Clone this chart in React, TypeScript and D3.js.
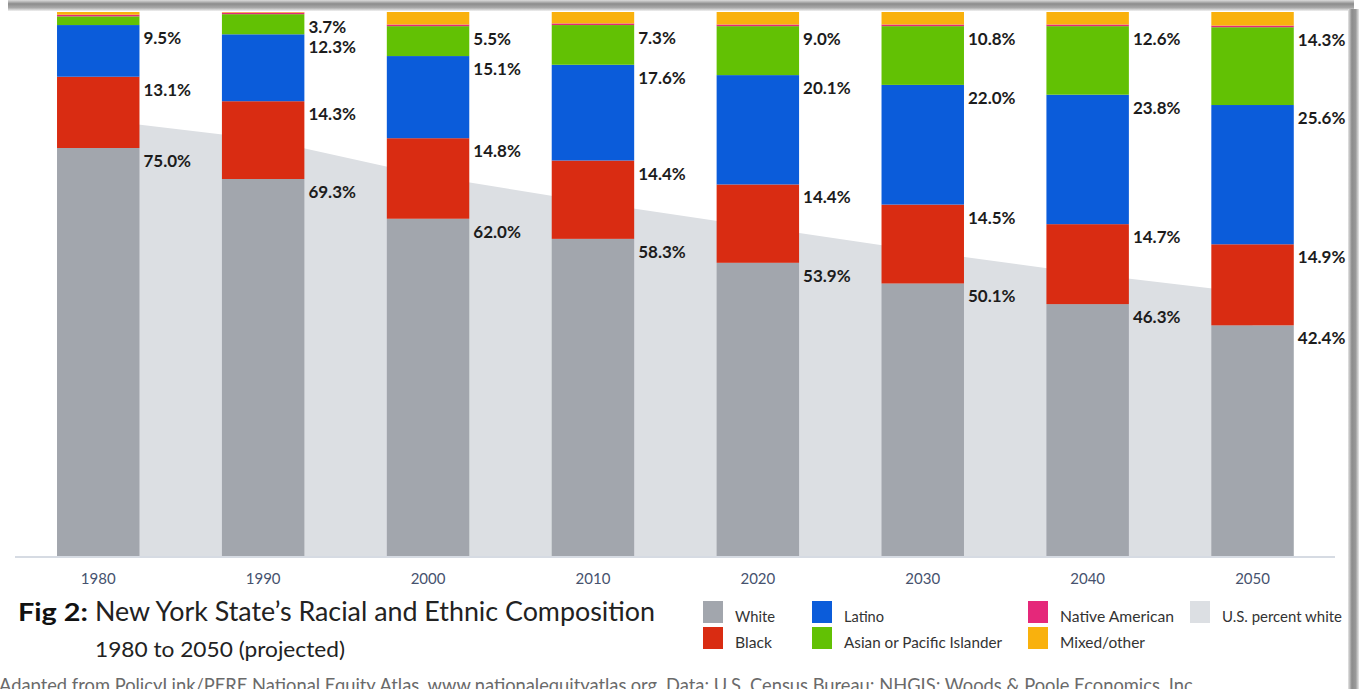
import React from "react";
import * as d3 from "d3";

const years = ["1980", "1990", "2000", "2010", "2020", "2030", "2040", "2050"];
const white = [75.0, 69.3, 62.0, 58.3, 53.9, 50.1, 46.3, 42.4];
const black = [13.1, 14.3, 14.8, 14.4, 14.4, 14.5, 14.7, 14.9];
const latino = [9.5, 12.3, 15.1, 17.6, 20.1, 22.0, 23.8, 25.6];
const asian = [1.6, 3.7, 5.5, 7.3, 9.0, 10.8, 12.6, 14.3];
const nativeAm = [0.3, 0.3, 0.3, 0.3, 0.3, 0.3, 0.3, 0.3];
const mixed = [0.5, 0.1, 2.3, 2.1, 2.3, 2.3, 2.3, 2.5];
const usWhite = [80.2, 76.6, 69.9, 65.0, 60.5, 56.0, 51.9, 48.3];
const asianLabelShown = [false, true, true, true, true, true, true, true];

const seriesKeys = ["White", "Black", "Latino", "Asian or Pacific Islander", "Native American", "Mixed/other"];
const seriesValues = [white, black, latino, asian, nativeAm, mixed];
const colors = ["#a2a6ad", "#d92c12", "#0b5cda", "#62c104", "#e5287a", "#f9b10d"];
const usColor = "#dcdfe3";

const W = 1359;
const H = 689;
const FONT = "Lato, 'Open Sans', sans-serif";

export default function App() {
  const x = d3.scaleBand<string>().domain(years).range([15.8, 1335]).paddingInner(0.5).paddingOuter(0.25);
  const y = d3.scaleLinear().domain([0, 100]).range([556, 12]);
  const bw = x.bandwidth();

  const table = years.map((yr, i) => {
    const row: any = { year: yr };
    seriesKeys.forEach((k, j) => (row[k] = seriesValues[j][i]));
    return row;
  });
  const stacked = d3.stack<any>().keys(seriesKeys)(table);

  const usPts = years.map((yr, i) => ({ x: (x(yr) as number) + bw / 2, v: usWhite[i] }));
  const area = d3
    .area<{ x: number; v: number }>()
    .x((d) => d.x)
    .y0(y(0))
    .y1((d) => y(d.v));

  const labels: { x: number; y: number; t: string }[] = [];
  years.forEach((yr, i) => {
    const right = (x(yr) as number) + bw + 4;
    [0, 1, 2, 3].forEach((j) => {
      if (j === 3 && !asianLabelShown[i]) return;
      const top = stacked[j][i][1];
      labels.push({ x: right, y: y(top) + 19, t: seriesValues[j][i].toFixed(1) + "%" });
    });
  });

  const legend = [
    { label: "White", color: colors[0], x: 703, y: 601, tl: 40 },
    { label: "Black", color: colors[1], x: 703, y: 627, tl: 37 },
    { label: "Latino", color: colors[2], x: 812, y: 601, tl: 40 },
    { label: "Asian or Pacific Islander", color: colors[3], x: 812, y: 627, tl: 158 },
    { label: "Native American", color: colors[4], x: 1028, y: 601, tl: 114 },
    { label: "Mixed/other", color: colors[5], x: 1028, y: 627, tl: 85 },
    { label: "U.S. percent white", color: usColor, x: 1190, y: 601, tl: 120 },
  ];

  return (
    <svg width={W} height={H} style={{ position: "absolute", left: 0, top: 0, background: "#fff" }}>
      <defs>
        <linearGradient id="topShadow" x1="0" y1="0" x2="0" y2="1">
          <stop offset="0" stopColor="#dcdcdc" />
          <stop offset="0.35" stopColor="#8c8c8c" />
          <stop offset="0.7" stopColor="#a8a8a8" />
          <stop offset="1" stopColor="#f2f2f2" />
        </linearGradient>
        <linearGradient id="rightShadow" x1="0" y1="0" x2="1" y2="0">
          <stop offset="0" stopColor="#e6e6e6" />
          <stop offset="0.35" stopColor="#8c8c8c" />
          <stop offset="0.7" stopColor="#9a9a9a" />
          <stop offset="1" stopColor="#e8e8e8" />
        </linearGradient>
        <clipPath id="plotClip">
          <rect x={0} y={11} width={1348} height={600} />
        </clipPath>
      </defs>
      <rect x={0} y={0} width={W} height={H} fill="#fff" />

      <g clipPath="url(#plotClip)">
        <path d={area(usPts) || ""} fill={usColor} />
        {stacked.map((s, j) => (
          <g key={seriesKeys[j]} fill={colors[j]}>
            {s.map((d, i) => (
              <rect
                key={years[i]}
                x={x(years[i])}
                y={y(d[1])}
                width={bw}
                height={Math.max(0, y(d[0]) - y(d[1]))}
              />
            ))}
          </g>
        ))}
      </g>
      <line x1={15} x2={1335} y1={557} y2={557} stroke="#c8cfda" strokeWidth={1.6} />

      {labels.map((l, i) => (
        <text key={i} x={l.x} y={l.y} fontFamily={FONT} fontWeight={700} fontSize={17} fill="#1c1c1c">
          {l.t}
        </text>
      ))}

      {years.map((yr) => (
        <text
          key={yr}
          x={(x(yr) as number) + bw / 2}
          y={584}
          textAnchor="middle"
          fontFamily={FONT}
          fontSize={15}
          fill="#46526e"
        >
          {yr}
        </text>
      ))}

      <text x={18} y={621} fontFamily={FONT} fontWeight={700} fontSize={25} fill="#111" textLength={70} lengthAdjust="spacingAndGlyphs">
        Fig 2:
      </text>
      <text x={95} y={621} fontFamily={FONT} fontSize={26} fill="#222" textLength={560} lengthAdjust="spacingAndGlyphs">
        New York State’s Racial and Ethnic Composition
      </text>
      <text x={95} y={657} fontFamily={FONT} fontSize={22} fill="#222" textLength={250} lengthAdjust="spacingAndGlyphs">
        1980 to 2050 (projected)
      </text>

      {legend.map((l) => (
        <g key={l.label}>
          <rect x={l.x} y={l.y} width={20} height={22} fill={l.color} />
          <text
            x={l.x + 32}
            y={l.y + 21}
            fontFamily={FONT}
            fontSize={16}
            fill="#333"
            textLength={l.tl}
            lengthAdjust="spacingAndGlyphs"
          >
            {l.label}
          </text>
        </g>
      ))}

      <text x={-1} y={692} fontFamily={FONT} fontSize={19} fill="#6a6a6a" textLength={1198} lengthAdjust="spacingAndGlyphs">
        Adapted from PolicyLink/PERE National Equity Atlas, www.nationalequityatlas.org. Data: U.S. Census Bureau; NHGIS; Woods &amp; Poole Economics, Inc.
      </text>

      <rect x={8} y={0} width={1346} height={11} fill="url(#topShadow)" />
      <rect x={1348} y={9} width={11} height={680} fill="url(#rightShadow)" />
    </svg>
  );
}
